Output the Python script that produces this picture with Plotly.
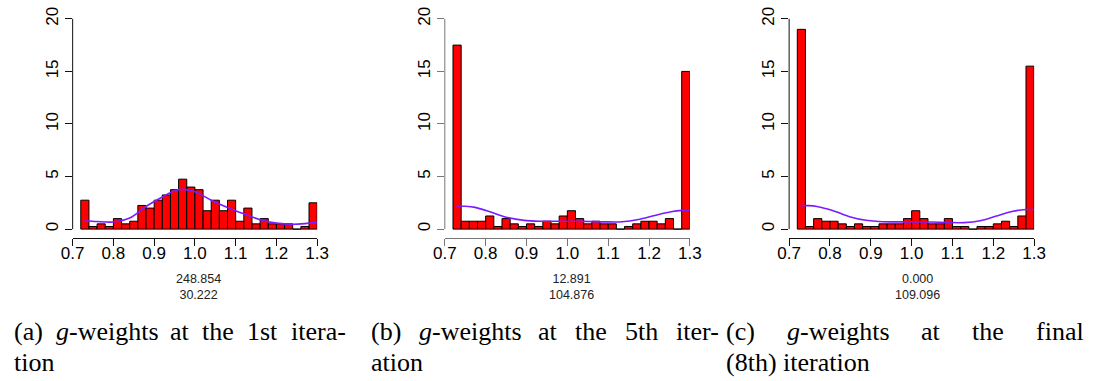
import plotly.graph_objects as go

W, H = 1098, 381

# ---------------- data ----------------
bin_left = [0.72, 0.74, 0.76, 0.78, 0.80, 0.82, 0.84, 0.86, 0.88, 0.90,
            0.92, 0.94, 0.96, 0.98, 1.00, 1.02, 1.04, 1.06, 1.08, 1.10,
            1.12, 1.14, 1.16, 1.18, 1.20, 1.22, 1.24, 1.26, 1.28]
bin_width = 0.02

density_iter1 = [2.75, 0.25, 0.5, 0.25, 1.0, 0.5, 0.75, 2.25, 2.0, 2.75,
                 3.25, 3.75, 4.75, 4.0, 3.75, 1.75, 2.75, 1.75, 2.75, 0.75,
                 2.0, 0.5, 1.0, 0.5, 0.5, 0.5, 0.0, 0.25, 2.5]
density_iter5 = [17.5, 0.75, 0.75, 0.75, 1.25, 0.25, 1.0, 0.5, 0.25, 0.5,
                 0.25, 0.75, 0.5, 1.25, 1.75, 1.0, 0.5, 0.75, 0.5, 0.5,
                 0.0, 0.25, 0.5, 0.75, 0.75, 0.5, 1.0, 0.0, 15.0]
density_final = [19.0, 0.25, 1.0, 0.75, 0.75, 0.5, 0.25, 0.5, 0.25, 0.25,
                 0.5, 0.5, 0.5, 1.0, 1.75, 1.0, 0.5, 0.5, 1.0, 0.25,
                 0.25, 0.0, 0.25, 0.25, 0.5, 0.75, 0.25, 1.25, 15.5]

kde_x_iter1 = [0.729, 0.76, 0.80, 0.84, 0.88, 0.92, 0.95, 0.972, 1.00, 1.04,
               1.08, 1.12, 1.16, 1.20, 1.24, 1.27, 1.30]
kde_y_iter1 = [0.80, 0.72, 0.68, 1.05, 2.15, 3.05, 3.65, 3.78, 3.55, 2.75,
               2.05, 1.45, 0.90, 0.57, 0.46, 0.52, 0.64]
kde_x_iter5 = [0.728, 0.75, 0.774, 0.814, 0.854, 0.894, 0.934, 0.974, 1.014,
               1.054, 1.094, 1.134, 1.174, 1.214, 1.254, 1.282, 1.30]
kde_y_iter5 = [2.20, 2.18, 2.07, 1.60, 1.10, 0.83, 0.75, 0.75, 0.75,
               0.72, 0.69, 0.70, 0.92, 1.30, 1.65, 1.78, 1.80]
kde_x_final = [0.728, 0.748, 0.768, 0.808, 0.848, 0.888, 0.928, 0.968, 1.008,
               1.048, 1.088, 1.128, 1.168, 1.208, 1.248, 1.28, 1.30]
kde_y_final = [2.23, 2.23, 2.15, 1.75, 1.18, 0.84, 0.70, 0.69, 0.69,
               0.67, 0.63, 0.62, 0.80, 1.25, 1.70, 1.86, 1.87]

x_tick_vals = [0.7, 0.8, 0.9, 1.0, 1.1, 1.2, 1.3]
x_tick_text = ["0.7", "0.8", "0.9", "1.0", "1.1", "1.2", "1.3"]
y_tick_vals = [0, 5, 10, 15, 20]
y_tick_text = ["0", "5", "10", "15", "20"]

sub_line1 = ["248.854", "12.891", "0.000"]
sub_line2 = ["30.222", "104.876", "109.096"]

caption_line1 = [["(a)", "<i>g</i>-weights", "at", "the", "1st", "itera-"],
                 ["(b)", "<i>g</i>-weights", "at", "the", "5th", "iter-"],
                 ["(c)", "<i>g</i>-weights", "at", "the", "final"]]
caption_line2 = ["tion", "ation", "(8th) iteration"]

# ---------------- layout geometry (pixels) ----------------
panel_x = [(62, 312), (442.5, 693), (794.5, 1045)]
plot_top, plot_bottom = 6.5, 236
axis_colors = ["#111111", "#777777", "#111111"]
sub_center = [191, 572, 926]
caption_x = [(0, 338), (365, 720), (728, 1093)]

densities = [density_iter1, density_iter5, density_final]
kdes = [(kde_x_iter1, kde_y_iter1), (kde_x_iter5, kde_y_iter5), (kde_x_final, kde_y_final)]

SANS = "Liberation Sans"
SERIF = "Liberation Serif"

fig = go.Figure()
layout = dict(
    width=W, height=H, margin=dict(l=0, r=0, t=0, b=0),
    paper_bgcolor="white", plot_bgcolor="white", showlegend=False,
    shapes=[], annotations=[],
)

for i in range(3):
    sfx = "" if i == 0 else str(i + 1)
    xa, ya = "x" + sfx, "y" + sfx
    fig.add_trace(go.Bar(
        x=bin_left, y=densities[i], width=bin_width, offset=0,
        marker=dict(color="#FF0000", line=dict(color="black", width=1)),
        xaxis=xa, yaxis=ya, hoverinfo="skip"))
    fig.add_trace(go.Scatter(
        x=kdes[i][0], y=kdes[i][1], mode="lines",
        line=dict(color="#7A1CFF", width=1.6, shape="spline", smoothing=0.8),
        xaxis=xa, yaxis=ya, hoverinfo="skip"))
    x0, x1 = panel_x[i]
    col = axis_colors[i]
    layout["xaxis" + sfx] = dict(
        domain=[x0 / W, x1 / W], range=[0.7, 1.3], anchor=ya,
        showgrid=False, zeroline=False, showline=True, linecolor=col, linewidth=1,
        ticks="outside", ticklen=7, tickcolor=col, tickwidth=1,
        tickvals=x_tick_vals, ticktext=x_tick_text, ticklabelstandoff=-7,
        tickfont=dict(family=SANS, size=17, color="black"),
    )
    layout["yaxis" + sfx] = dict(
        domain=[1 - plot_bottom / H, 1 - plot_top / H], range=[-0.8, 20.8], anchor=xa,
        showgrid=False, zeroline=False, showline=False,
        ticks="outside", ticklen=7, tickcolor=col, tickwidth=1,
        tickvals=y_tick_vals, ticktext=y_tick_text, tickangle=-90,
        tickfont=dict(family=SANS, size=17, color="black"),
    )
    layout["shapes"].append(dict(
        type="line", xref="paper", yref=ya, x0=x0 / W, x1=x0 / W,
        y0=y_tick_vals[0], y1=y_tick_vals[-1], line=dict(color=col, width=1)))
    layout["annotations"].append(dict(
        xref="paper", yref="paper", x=sub_center[i] / W, y=1 - 286 / H,
        text=sub_line1[i] + "<br>" + sub_line2[i], showarrow=False,
        xanchor="center", yanchor="middle",
        font=dict(family=SANS, size=12.5, color="#222222")))

# ---------------- captions (first line justified to column width) ----------------
CAP_SIZE = 26
tw = {'(': 333, ')': 333, 'a': 444, 'b': 500, 'c': 444, 'g': 500, '-': 333, 'w': 722,
      'e': 444, 'i': 278, 'h': 500, 't': 278, 's': 389, '1': 500, '5': 500, '8': 500,
      'r': 333, 'n': 500, 'f': 333, 'l': 278, 'o': 500, ' ': 250}


def word_width(w):
    plain = w.replace("<i>", "").replace("</i>", "")
    return sum(tw.get(ch, 500) for ch in plain) / 1000.0 * CAP_SIZE


for i in range(3):
    words = caption_line1[i]
    cx0, cx1 = caption_x[i]
    widths = [word_width(w) for w in words]
    gap = (cx1 - cx0 - sum(widths)) / (len(words) - 1)
    pos = cx0
    for w, wd in zip(words, widths):
        layout["annotations"].append(dict(
            xref="paper", yref="paper", x=pos / W, y=1 - 331 / H, text=w,
            showarrow=False, xanchor="left", yanchor="middle",
            font=dict(family=SERIF, size=CAP_SIZE, color="black")))
        pos += wd + gap
    layout["annotations"].append(dict(
        xref="paper", yref="paper", x=cx0 / W, y=1 - 362 / H, text=caption_line2[i],
        showarrow=False, xanchor="left", yanchor="middle",
        font=dict(family=SERIF, size=CAP_SIZE, color="black")))

fig.update_layout(**layout)
fig.write_html("out.html")
